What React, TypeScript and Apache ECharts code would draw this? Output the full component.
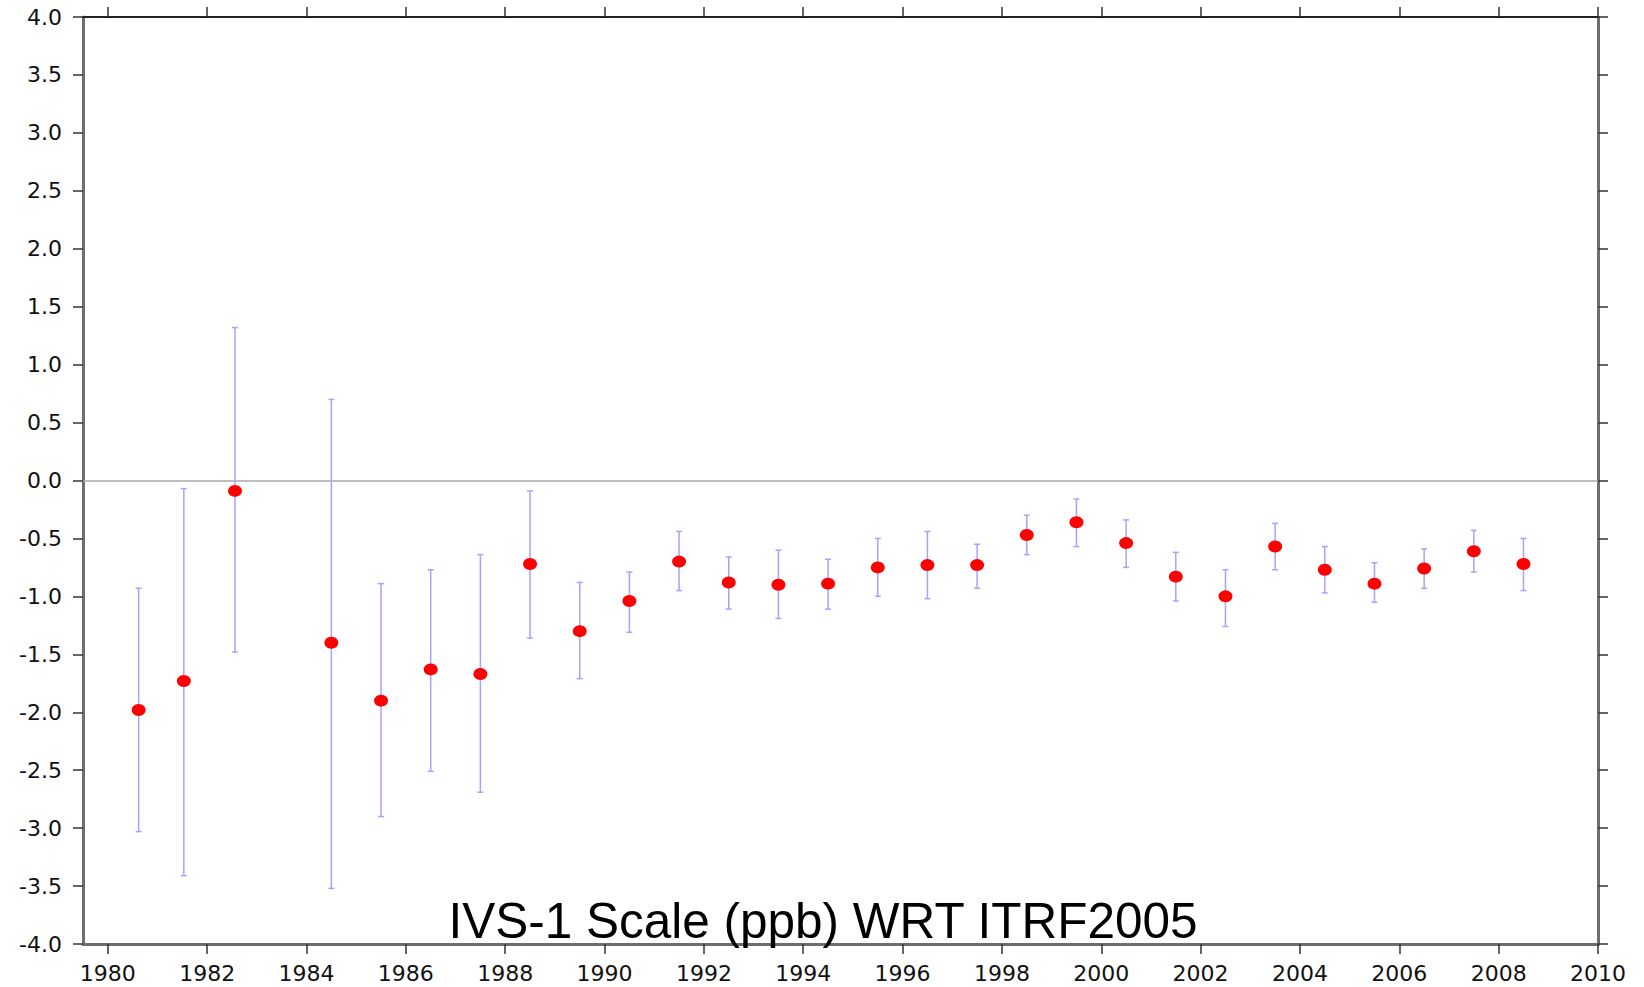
import React, { useEffect, useRef } from "react";
import * as echarts from "echarts";

const years = [1980.62, 1981.53, 1982.56, 1984.5, 1985.5, 1986.5, 1987.5, 1988.5, 1989.5, 1990.5, 1991.5, 1992.5, 1993.5, 1994.5, 1995.5, 1996.5, 1997.5, 1998.5, 1999.5, 2000.5, 2001.5, 2002.5, 2003.5, 2004.5, 2005.5, 2006.5, 2007.5, 2008.5];
const scaleValues = [-1.98, -1.73, -0.09, -1.40, -1.90, -1.63, -1.67, -0.72, -1.30, -1.04, -0.70, -0.88, -0.90, -0.89, -0.75, -0.73, -0.73, -0.47, -0.36, -0.54, -0.83, -1.00, -0.57, -0.77, -0.89, -0.76, -0.61, -0.72];
const lowValues = [-3.03, -3.41, -1.48, -3.52, -2.90, -2.51, -2.69, -1.36, -1.71, -1.31, -0.95, -1.11, -1.19, -1.11, -1.00, -1.02, -0.93, -0.64, -0.57, -0.75, -1.04, -1.26, -0.77, -0.97, -1.05, -0.93, -0.79, -0.95];
const highValues = [-0.93, -0.07, 1.32, 0.70, -0.89, -0.77, -0.64, -0.09, -0.88, -0.79, -0.44, -0.66, -0.60, -0.68, -0.50, -0.44, -0.55, -0.30, -0.16, -0.34, -0.62, -0.77, -0.37, -0.57, -0.71, -0.59, -0.43, -0.50];
const xTickYears = [1980, 1982, 1984, 1986, 1988, 1990, 1992, 1994, 1996, 1998, 2000, 2002, 2004, 2006, 2008, 2010];
const titleText = "IVS-1 Scale (ppb) WRT ITRF2005";

const labelFont = "'DejaVu Sans', sans-serif";

export default function App() {
  const ref = useRef<HTMLDivElement>(null);
  useEffect(() => {
    if (!ref.current) return;
    const chart = echarts.init(ref.current, null, { renderer: "svg" });
    const errData = years.map((y, i) => [y, lowValues[i], highValues[i]]);
    const ptData = years.map((y, i) => [y, scaleValues[i]]);
    const grayAxis = { lineStyle: { color: "#6e6e6e", width: 3 } };
    chart.setOption({
      animation: false,
      backgroundColor: "#ffffff",
      grid: { left: 83, right: 46, top: 17, bottom: 43, containLabel: false },
      xAxis: [
        {
          type: "value",
          min: 1979.5,
          max: 2010,
          position: "bottom",
          axisLine: { show: true, onZero: false, ...grayAxis },
          axisTick: { show: true, inside: false, length: 10, customValues: xTickYears, lineStyle: { color: "#333", width: 1.5 } },
          axisLabel: { show: true, customValues: xTickYears, margin: 18, fontSize: 22, fontFamily: labelFont, color: "#111", formatter: (v: number) => String(Math.round(v)) },
          splitLine: { show: false },
        },
        {
          type: "value",
          min: 1979.5,
          max: 2010,
          position: "top",
          axisLine: { show: true, onZero: false, lineStyle: { color: "#222", width: 2 } },
          axisTick: { show: true, inside: false, length: 10, customValues: xTickYears, lineStyle: { color: "#333", width: 1.5 } },
          axisLabel: { show: false },
          splitLine: { show: false },
        },
      ],
      yAxis: [
        {
          type: "value",
          min: -4,
          max: 4,
          interval: 0.5,
          position: "left",
          axisLine: { show: true, onZero: false, ...grayAxis },
          axisTick: { show: true, inside: false, length: 10, lineStyle: { color: "#333", width: 1.5 } },
          axisLabel: { show: true, margin: 21, fontSize: 22, fontFamily: labelFont, color: "#111", formatter: (v: number) => v.toFixed(1) },
          splitLine: { show: false },
        },
        {
          type: "value",
          min: -4,
          max: 4,
          interval: 0.5,
          position: "right",
          axisLine: { show: true, onZero: false, ...grayAxis },
          axisTick: { show: true, inside: false, length: 10, lineStyle: { color: "#333", width: 1.5 } },
          axisLabel: { show: false },
          splitLine: { show: false },
        },
      ],
      series: [
        {
          type: "custom",
          xAxisIndex: 0,
          yAxisIndex: 0,
          data: errData,
          z: 2,
          renderItem: (params: any, api: any) => {
            const x = api.value(0);
            const lo = api.coord([x, api.value(1)]);
            const hi = api.coord([x, api.value(2)]);
            const cap = 3;
            const style = { stroke: "#a4a4ff", lineWidth: 1.5 };
            return {
              type: "group",
              children: [
                { type: "line", shape: { x1: lo[0], y1: lo[1], x2: hi[0], y2: hi[1] }, style },
                { type: "line", shape: { x1: lo[0] - cap, y1: lo[1], x2: lo[0] + cap, y2: lo[1] }, style },
                { type: "line", shape: { x1: hi[0] - cap, y1: hi[1], x2: hi[0] + cap, y2: hi[1] }, style },
              ],
            };
          },
        },
        {
          type: "scatter",
          xAxisIndex: 0,
          yAxisIndex: 0,
          data: ptData,
          symbol: "circle",
          symbolSize: [14, 12],
          itemStyle: { color: "#ff0000", opacity: 1 },
          z: 3,
          markLine: {
            silent: true,
            symbol: "none",
            label: { show: false },
            lineStyle: { color: "#a8a8a8", width: 1.5, type: "solid" },
            data: [{ yAxis: 0 }],
            z: 1,
          },
        },
      ],
      graphic: [
        {
          type: "text",
          z: 100,
          style: {
            text: titleText,
            x: 823,
            y: 920,
            textAlign: "center",
            textVerticalAlign: "middle",
            fontSize: 49.5,
            fontFamily: "'Liberation Sans', Arial, sans-serif",
            fill: "#000",
          },
        },
      ],
    });
    return () => chart.dispose();
  }, []);
  return <div ref={ref} style={{ position: "fixed", left: 0, top: 0, width: 1644, height: 987, background: "#fff" }} />;
}
